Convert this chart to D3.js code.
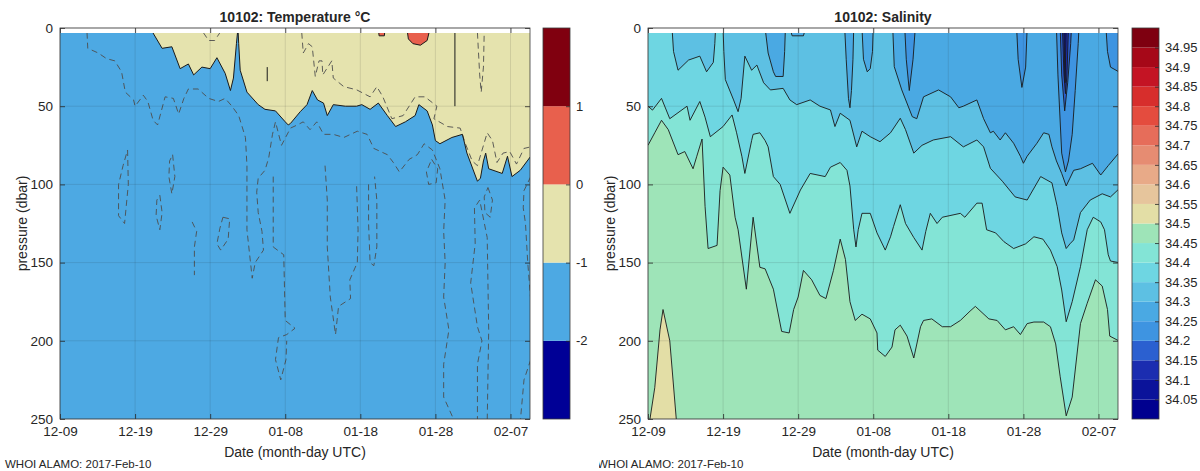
<!DOCTYPE html>
<html>
<head>
<meta charset="utf-8">
<script src="https://cdn.jsdelivr.net/npm/d3@7"></script>
<style>
body { margin: 0; background: #fff; }
text { font-family: "Liberation Sans", Arial, sans-serif; fill: #262626; }
</style>
</head>
<body>
<svg id="chart" width="1200" height="471"></svg>
<script>
// days are counted from 2016-12-09 00:00 UTC, depths in dbar
var startMs = Date.UTC(2016, 11, 9);
var endDay = 62.6;
var xTickDays = [0, 10, 20, 30, 40, 50, 60];
var depthTicks = [0, 50, 100, 150, 200, 250];
var surfaceDepth = 3.2;

var tempLevels = [-3, -2, -1, 0, 1, 2];
var tempColors = ["#000096", "#4da9e3", "#e5e3ae", "#e8604d", "#80000f"];
var tempTicks = [-2, -1, 0, 1];

var salLevels = [34.0, 34.05, 34.1, 34.15, 34.2, 34.25, 34.3, 34.35, 34.4, 34.45, 34.5,
                 34.55, 34.6, 34.65, 34.7, 34.75, 34.8, 34.85, 34.9, 34.95, 35.0];
var salColors = ["#00008f", "#0b139a", "#1b2db0", "#2b60d0", "#3e94e1", "#4aa9e3", "#5dc0e3",
                 "#6ed6e2", "#83e4d6", "#9ee4b8", "#e3dea6", "#e6c59c", "#e8aa88", "#e68c72",
                 "#e66d5a", "#e44c3e", "#d72e2c", "#c41424", "#a60818", "#7e0010"];
var salTicks = [34.05, 34.1, 34.15, 34.2, 34.25, 34.3, 34.35, 34.4, 34.45, 34.5,
                34.55, 34.6, 34.65, 34.7, 34.75, 34.8, 34.85, 34.9, 34.95];

// temperature: depth of the -1 and 0 degC isotherms [day, depth]
var tempMinus1 = [[0,0],[12.0,0],[13.6,13],[14.9,12],[16.0,26],[17.1,23],[17.8,30],[18.9,25],[20.0,26],
  [20.9,19],[22.0,29],[22.7,40],[23.1,32],[23.5,10],[23.7,0],[23.8,10],[24.0,27],[24.9,41],[26.4,49],
  [27.3,52],[28.7,53],[30.0,60],[30.4,62],[30.7,61],[32.0,53.5],[32.9,49],[33.6,40],[34.3,46],[35.1,48],
  [35.6,56],[36.4,49],[38.0,50],[39.5,50],[40.2,49],[41.3,52],[42.4,48],[43.6,56],[44.7,63],[46.0,60],
  [47.3,56],[47.8,49],[48.9,53],[49.6,62],[50.0,72],[50.6,74],[52.2,70],[53.6,68],[54.2,80],[55.6,98],
  [56.0,96],[56.4,85],[56.7,80],[57.1,90],[58.9,93],[59.6,82],[60.2,95],[61.3,91],[62.7,82]];
var tempZero = [[0,0],[42.4,0],[42.5,5],[43.2,5],[43.3,0],[46.2,0],[46.4,7],[47.0,10],[48.0,11],
  [48.9,8],[49.3,0],[62.7,0]];
var tempThin = [
  [[52.6,0],[52.6,50]],
  [[27.6,25],[27.6,34]]
];
// dashed contours (-1.5 and -0.5 degC)
var tempDashed = [
  [[3.6,3],[3.7,13],[5.1,16],[6.2,19.6],[7.3,21],[8.2,28],[8.7,41],[9.8,46],[10,50],[11.1,43],[11.7,47],
   [12.4,59],[13,62],[14,44],[15.1,45],[15.8,55],[16.5,45],[17.1,39],[18.4,39],[19.8,45],[21.1,47],
   [22,45],[22.9,50],[23.8,56],[24.7,70],[24.9,88],[24.9,129],[25.6,160],[26.0,150],[27.1,142],
   [26.9,130],[26.4,118],[26.2,105],[26.4,96],[27.3,91],[27.8,83],[28.3,68],[28.7,60],[29.5,75],
   [30.7,64],[31.6,62],[32.4,60],[33.3,65],[34.2,60],[35.1,68],[36.4,68],[37.8,70],[39.6,66],
   [40.9,68],[41.8,77],[43.6,81],[44.4,86],[45.2,92],[46.5,84],[47.6,81],[48.5,74],[49.6,78],
   [50.6,90],[51.3,110],[51.1,130],[51.3,150],[51.1,172],[51.8,193],[51.1,215],[51.1,236],[52.6,252]],
  [[9.0,78],[9.1,100],[8.6,125],[7.8,120],[7.8,100],[8.4,88],[9.0,78]],
  [[15.0,81],[15.3,95],[14.9,106],[14.5,95],[14.6,85],[15.0,81]],
  [[13.3,107],[13.6,118],[13.3,129],[12.8,120],[12.9,110],[13.3,107]],
  [[17.6,124],[18.2,130],[17.9,140],[17.9,158]],
  [[21.7,121],[22.6,122],[22.4,135],[21.4,142],[20.9,138],[21.3,128],[21.7,121]],
  [[28.4,95],[28.4,129],[28.4,140],[29.8,145],[30.0,187],[31.3,192],[30.2,196],[29.1,198],[28.7,212],
   [29.4,225],[30.1,212],[30.2,200]],
  [[35.3,88],[35.6,110],[35.6,140],[36.0,172],[36.7,196],[37.1,178],[38.7,173],[38.6,161],[39.6,150],
   [39.7,129],[39.5,100]],
  [[41.1,100],[41.1,125],[41.3,150],[41.8,152],[42.2,140],[42.2,110],[41.9,95]],
  [[49.5,84],[50.3,90],[50.1,99],[49.1,100],[48.8,92],[49.5,84]],
  [[57.0,102],[57.6,110],[57.3,121],[56.6,118],[56.5,108],[57.0,102]],
  [[55.6,252],[55.6,215],[56.2,200],[55.6,191],[54.7,163],[55.3,138],[55.2,115],[55.9,110],
   [56.9,134],[57.1,193],[56.9,252]],
  [[62.7,212],[61.8,225],[61.3,252]],
  [[62.7,95],[61.8,104],[61.7,115],[62.0,125],[62.3,150],[62.7,174]],
  [[32.2,3],[32.4,16],[33.1,10],[33.6,12],[34.0,31],[34.5,21],[34.9,21],[35.0,30],[36.2,21],[36.4,32],
   [37.8,37.5],[39.5,39.5],[41.3,44],[42.2,37.5],[43.0,44],[44.2,58],[45.7,56],[47.3,44],[48.6,44],
   [50.2,50],[49.8,58],[51.6,63],[53.3,64],[54.0,74],[54.9,85],[55.6,88],[56.9,67],[57.6,72],
   [58.2,86],[59.0,80],[59.9,79],[60.8,87],[61.8,77],[62.7,76]],
  [[19.1,3],[19.8,8],[20.6,8],[21.3,3]],
  [[55.6,3],[55.9,30],[56.1,41],[56.4,25],[56.5,3]]
];

// salinity: depth of each isohaline [day, depth]; 0 = band reaches the surface
var sal3410 = [[0,0],[55.4,0],[55.55,35],[55.7,0],[62.7,0]];
var sal3415 = [[0,0],[55.2,0],[55.4,30],[55.6,42],[55.8,30],[56.0,0],[62.7,0]];
var sal3420 = [[0,0],[54.9,0],[55.1,30],[55.5,53],[55.9,35],[56.3,10],[56.4,0],[62.7,0]];
var sal3425 = [[0,0],[34.2,0],[34.4,20],[34.8,40],[35.3,20],[35.6,0],[49.1,0],[49.3,20],[49.8,38],
  [50.3,25],[50.5,0],[54.4,0],[54.6,30],[55.1,80],[55.6,92],[56.0,85],[56.5,68],[56.9,40],[57.3,10],
  [57.4,0],[61.0,0],[61.2,15],[61.6,25],[62.7,28]];
var sal3430 = [[0,0],[15.6,0],[16.0,16],[16.7,28],[17.0,31],[18.0,31],[18.2,15],[18.3,0],[18.9,0],
  [19.2,5],[20.7,5],[21.0,0],[26.2,0],[26.4,20],[26.7,45],[26.9,51],[27.1,40],[27.3,20],[27.4,0],
  [28.5,0],[28.7,20],[29.2,28],[29.6,26],[29.9,15],[30.0,0],[32.6,0],[32.8,24.7],[33.8,39.6],
  [35.2,56.7],[35.8,58],[36.7,44],[38.7,39.6],[40.3,44],[41.4,51],[42.0,50],[43.8,46],[44.7,58],
  [45.6,67],[46.0,66],[46.9,71.6],[47.6,67],[48.7,73.7],[49.6,82],[50.0,86.5],[50.5,82],[51.8,73.7],
  [52.7,67],[53.4,68],[53.8,76],[54.4,85],[55.1,93],[55.7,101],[56.2,96],[56.7,91],[57.6,90],
  [59.2,86.5],[60.3,94],[61.3,88],[62.7,80]];
var sal3435 = [[0,0],[3.2,0],[3.4,15],[4.0,27],[5.4,20.5],[6.9,18],[7.8,28],[8.7,22],[8.9,10],[9.0,0],
  [10.0,0],[10.1,15],[10.3,33],[11.4,46],[12.0,53.5],[12.4,45],[12.9,18],[13.8,27],[14.5,23.7],
  [15.4,35],[16.3,39.6],[18.0,38.6],[18.9,46],[19.8,49],[21.6,46],[22.9,50],[24.3,52.4],[24.9,63],
  [25.6,54.5],[26.9,59],[27.8,76],[28.5,66],[29.6,69.5],[30.9,72.7],[32.3,67],[33.6,57.7],[34.3,65],
  [35.4,80],[36.5,75],[38.0,71.6],[40.3,69.5],[42.0,76],[43.8,71.6],[44.7,76],[45.6,89.7],[47.2,98],
  [48.9,108],[50.5,110],[52.3,95],[53.8,99],[54.5,114],[55.1,131],[55.7,141],[56.2,138],[56.7,135.5],
  [57.6,118],[58.9,110],[60.5,106],[61.6,108],[62.7,103]];
var sal3440 = [[0,50],[0.6,52.5],[1.8,45],[2.9,58],[5.2,50],[5.6,59],[6.9,47],[7.6,57],[8.3,69.5],
  [10.0,63],[11.2,55.6],[11.8,67],[12.5,82],[12.9,93],[13.8,72],[14.0,68],[14.9,67],[15.6,72],
  [16.0,76],[16.7,95],[17.6,100],[18.9,118.5],[20.3,103.6],[21.6,93],[23.6,95],[24.3,89],[25.6,86],
  [26.5,91],[26.9,101],[27.4,129],[27.7,140],[28.0,129],[28.5,118.5],[29.6,118.5],[30.5,131],
  [31.6,142],[32.3,133.5],[32.7,127],[33.6,113],[34.3,125],[35.4,134],[36.5,142],[37.0,130],
  [37.6,118.5],[38.5,125],[39.2,121],[41.6,118.5],[42.2,121],[43.8,112],[44.5,112],[45.1,129],
  [46.3,131],[47.4,136.6],[48.7,141],[50.3,138],[51.4,133.5],[52.6,135],[53.6,142],[54.5,152.6],
  [55.1,167.5],[55.7,187.8],[56.5,175],[57.6,152.6],[58.5,129],[59.3,121],[60.3,124],[60.8,129],
  [61.3,145],[61.6,149],[62.7,150]];
var sal3445 = [[0,75],[0.9,67],[1.8,59],[2.7,65],[4.0,81],[4.9,79],[6.0,90],[6.5,82],[7.2,71],
  [7.6,114],[8.0,141],[9.2,139],[9.6,104],[10.0,89],[10.9,94],[11.6,121],[12.0,129],[13.1,167],
  [14.0,121],[14.9,153],[15.6,154],[16.7,167],[17.8,194],[18.8,195],[19.4,180],[20.0,172],[20.7,155],
  [21.8,161],[22.9,171],[23.7,173],[24.7,155],[25.6,135],[26.3,148],[26.9,175],[27.6,187],[28.5,183],
  [29.6,186],[30.5,195],[30.6,206],[31.6,210],[32.5,204],[32.9,193],[33.6,190],[34.5,197],[35.4,211],
  [36.3,191],[36.7,187],[37.8,186],[39.2,191],[40.3,191],[41.6,187],[42.9,181],[43.6,178],[45.4,186],
  [46.5,187],[47.6,193],[48.7,191],[49.6,196],[50.5,189],[51.4,188],[52.7,188],[53.6,191],[54.3,202],
  [54.9,223],[55.7,248],[56.5,236],[57.6,189],[58.5,176],[59.6,161],[60.5,165],[61.2,180],[61.5,197],
  [62.7,200]];
var sal3450 = [[0,262],[0.2,252],[0.9,230],[1.6,193],[2.0,180],[2.9,200],[3.8,252],[4.0,262],[62.7,262]];

var salContours = [
  {level: 34.1, data: sal3410}, {level: 34.15, data: sal3415}, {level: 34.2, data: sal3420},
  {level: 34.25, data: sal3425}, {level: 34.3, data: sal3430}, {level: 34.35, data: sal3435},
  {level: 34.4, data: sal3440}, {level: 34.45, data: sal3445}, {level: 34.5, data: sal3450}
];

var plotW = 470, plotH = 391;
var svg = d3.select("#chart");

function dayDate(d) { return new Date(startMs + d * 864e5); }

function drawPanel(left, id, title) {
    var g = svg.append("g").attr("transform", "translate(" + left + ",28)");
    var x = d3.scaleUtc().domain([dayDate(0), dayDate(endDay)]).range([0, plotW]);
    var y = d3.scaleLinear().domain([0, 250]).range([0, plotH]);

    g.append("clipPath").attr("id", "clip" + id)
        .append("rect")
        .attr("x", 0).attr("y", y(surfaceDepth))
        .attr("width", plotW).attr("height", plotH - y(surfaceDepth));

    var data = g.append("g").attr("clip-path", "url(#clip" + id + ")");

    g.append("text")
        .attr("x", plotW / 2).attr("y", -6)
        .attr("text-anchor", "middle")
        .style("font-size", "14px").style("font-weight", "bold")
        .text(title);

    return {g: g, data: data, x: x, y: y};
}

function finishPanel(p) {
    var g = p.g, x = p.x, y = p.y;
    var tickDates = xTickDays.map(dayDate);

    // grid
    g.append("g").selectAll("line.vx").data(tickDates).enter().append("line")
        .attr("x1", d => x(d)).attr("x2", d => x(d)).attr("y1", 0).attr("y2", plotH)
        .style("stroke", "#262626").style("stroke-opacity", 0.15).style("stroke-width", 0.8);
    g.append("g").selectAll("line.hy").data(depthTicks).enter().append("line")
        .attr("x1", 0).attr("x2", plotW).attr("y1", d => y(d)).attr("y2", d => y(d))
        .style("stroke", "#262626").style("stroke-opacity", 0.15).style("stroke-width", 0.8);

    var xAxis = d3.axisBottom(x).tickValues(tickDates).tickFormat(d3.utcFormat("%m-%d"))
        .tickSizeInner(-5).tickSizeOuter(0).tickPadding(7);
    var yAxis = d3.axisLeft(y).tickValues(depthTicks).tickSizeInner(-5).tickSizeOuter(0).tickPadding(7);

    var ax = g.append("g").attr("transform", "translate(0," + plotH + ")").call(xAxis);
    var ay = g.append("g").call(yAxis);
    g.append("g").call(d3.axisTop(x).tickValues(tickDates).tickFormat("").tickSizeInner(-5).tickSizeOuter(0));
    g.append("g").attr("transform", "translate(" + plotW + ",0)")
        .call(d3.axisRight(y).tickValues(depthTicks).tickFormat("").tickSizeInner(-5).tickSizeOuter(0));

    g.selectAll(".domain").remove();
    g.selectAll(".tick line").style("stroke", "#262626").style("stroke-width", 0.8);
    ax.selectAll("text").style("font-size", "13.5px").style("font-family", null);
    ay.selectAll("text").style("font-size", "13.5px").style("font-family", null);
    g.selectAll(".tick text").attr("fill", null);

    g.append("rect").attr("width", plotW).attr("height", plotH)
        .style("fill", "none").style("stroke", "#3a3a3a").style("stroke-width", 0.8);

    g.append("text")
        .attr("x", plotW / 2).attr("y", plotH + 38)
        .attr("text-anchor", "middle").style("font-size", "14px")
        .text("Date (month-day UTC)");
    g.append("text")
        .attr("transform", "rotate(-90)")
        .attr("x", -plotH / 2).attr("y", -38)
        .attr("dy", "0.35em")
        .attr("text-anchor", "middle").style("font-size", "14px")
        .text("pressure (dbar)");
}

function drawColorbar(left, levels, colors, ticks, fmt) {
    var cw = 27;
    var g = svg.append("g").attr("transform", "translate(" + left + ",28)");
    var c = d3.scaleLinear().domain([levels[0], levels[levels.length - 1]]).range([plotH, 0]);
    g.selectAll("rect.band").data(colors).enter().append("rect")
        .attr("x", 0).attr("width", cw)
        .attr("y", (d, i) => c(levels[i + 1]))
        .attr("height", (d, i) => c(levels[i]) - c(levels[i + 1]))
        .style("fill", d => d);
    var axis = d3.axisRight(c).tickValues(ticks).tickFormat(fmt)
        .tickSizeInner(-4).tickSizeOuter(0).tickPadding(6);
    var a = g.append("g").attr("transform", "translate(" + cw + ",0)").call(axis);
    a.select(".domain").remove();
    a.selectAll(".tick line").style("stroke", "#262626").style("stroke-width", 0.8);
    a.selectAll("text").attr("fill", null).style("font-size", "13px").style("font-family", null);
    g.append("rect").attr("width", cw).attr("height", plotH)
        .style("fill", "none").style("stroke", "#3a3a3a").style("stroke-width", 0.8);
}

// ---- temperature ----
var tp = drawPanel(60, "t", "10102: Temperature \u00b0C");
var tx = d => tp.x(dayDate(d[0])), ty = d => tp.y(d[1]);
tp.data.append("rect").attr("width", plotW).attr("height", plotH).style("fill", tempColors[1]);
var tempArea = d3.area().x(tx).y0(tp.y(0)).y1(ty);
tp.data.append("path").datum(tempMinus1).attr("d", tempArea).style("fill", tempColors[2]);
tp.data.append("path").datum(tempZero).attr("d", tempArea).style("fill", tempColors[3]);
var tLine = d3.line().x(tx).y(ty);
tp.data.selectAll("path.dash").data(tempDashed).enter().append("path")
    .attr("d", tLine)
    .style("fill", "none").style("stroke", "#4d4d4d").style("stroke-width", 0.9)
    .style("stroke-dasharray", "6,4");
[tempMinus1, tempZero].concat(tempThin).forEach(function (c) {
    tp.data.append("path").datum(c).attr("d", tLine)
        .style("fill", "none").style("stroke", "#1a1a1a").style("stroke-width", 1);
});
finishPanel(tp);
drawColorbar(543, tempLevels, tempColors, tempTicks, d => String(d));

// ---- salinity ----
var sp = drawPanel(648, "s", "10102: Salinity");
var sx = d => sp.x(dayDate(d[0])), sy = d => sp.y(d[1]);
var base = salLevels.indexOf(salContours[0].level) - 1;
sp.data.append("rect").attr("width", plotW).attr("height", plotH).style("fill", salColors[base]);
var salArea = d3.area().x(sx).y0(sp.y(262)).y1(sy);
salContours.forEach(function (c) {
    var i = salLevels.indexOf(c.level);
    sp.data.append("path").datum(c.data).attr("d", salArea).style("fill", salColors[i]);
});
var sLine = d3.line().x(sx).y(sy);
salContours.forEach(function (c) {
    sp.data.append("path").datum(c.data).attr("d", sLine)
        .style("fill", "none").style("stroke", "#1a1a1a").style("stroke-width", 0.9);
});
finishPanel(sp);
drawColorbar(1132, salLevels, salColors, salTicks, d => String(d));

// footers
svg.append("text").attr("x", 5).attr("y", 468).style("font-size", "11.5px").text("WHOI ALAMO: 2017-Feb-10");
svg.append("clipPath").attr("id", "footclip").append("rect").attr("x", 599).attr("y", 440).attr("width", 300).attr("height", 31);
svg.append("text").attr("clip-path", "url(#footclip)")
    .attr("x", 597).attr("y", 468).style("font-size", "11.5px").text("WHOI ALAMO: 2017-Feb-10");
</script>
</body>
</html>
